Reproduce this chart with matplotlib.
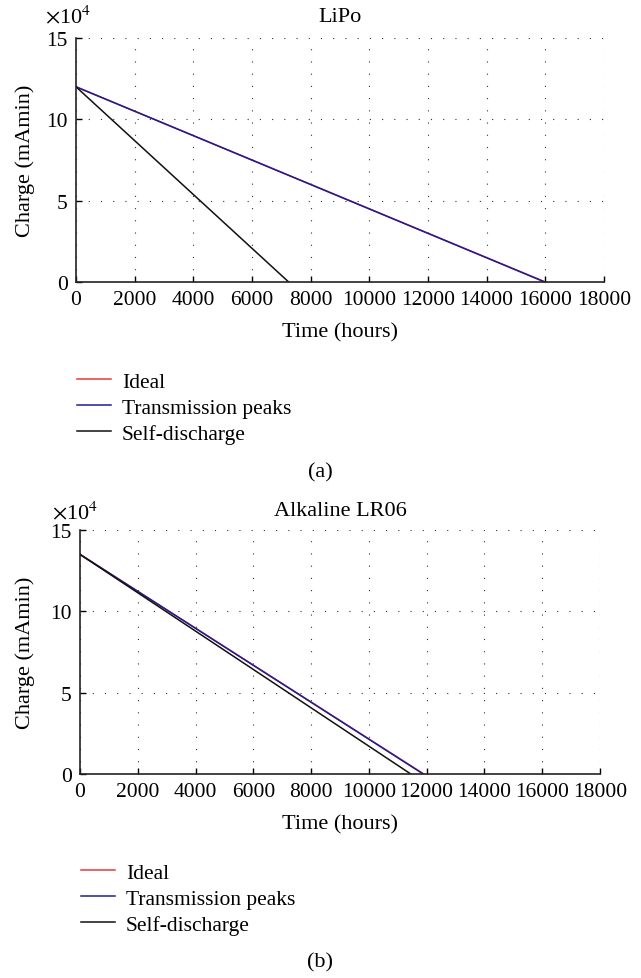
import matplotlib
matplotlib.use('Agg')
import matplotlib.pyplot as plt

plt.rcParams['font.family'] = ['Liberation Serif', 'DejaVu Serif']
plt.rcParams['mathtext.fontset'] = 'stix'

# Data (time in hours, charge in mAmin)
series_names = ['Ideal', 'Transmission peaks', 'Self-discharge']
series_colors = ['#e8383d', '#1c1c96', '#111111']

lipo_time = [[0, 16000], [0, 15980], [0, 7250]]
lipo_charge = [[120000, 0], [120000, 0], [120000, 0]]

alk_time = [[0, 11900], [0, 11880], [0, 11450]]
alk_charge = [[135000, 0], [135000, 0], [135000, 0]]

xticks = [0, 2000, 4000, 6000, 8000, 10000, 12000, 14000, 16000, 18000]
yticks = [0, 50000, 100000, 150000]
ytick_labels = ['0', '5', '10', '15']

W, H = 641, 979
fig = plt.figure(figsize=(W / 100, H / 100), dpi=100)


def px(x, y):
    return x / W, 1 - y / H


def panel(rect, times, charges, title, title_y, mult_xy, legend_y, tag, tag_y):
    left, top, right, bottom = rect
    ax = fig.add_axes([left / W, 1 - bottom / H, (right - left) / W, (bottom - top) / H])
    for t, c, name, col in zip(times, charges, series_names, series_colors):
        ax.plot(t, c, color=col, lw=1.1, label=name)
    ax.set_xlim(0, 18000)
    ax.set_ylim(0, 150000)
    ax.set_xticks(xticks)
    ax.set_xticklabels([str(v) for v in xticks])
    ax.set_yticks(yticks)
    ax.set_yticklabels(ytick_labels)
    ax.tick_params(direction='in', length=4, width=1, labelsize=15.5, pad=6)
    ax.grid(True, color='#333333', lw=0.8, linestyle=(0, (1, 10)))
    for s in ['top', 'right']:
        ax.spines[s].set_visible(False)
    for s in ['left', 'bottom']:
        ax.spines[s].set_linewidth(1.2)
        ax.spines[s].set_color('#222222')
    ax.set_xlabel('Time (hours)', fontsize=16, va='center')
    ax.xaxis.set_label_coords(0.5, -(bottom + 50 - bottom) / (bottom - top) + 0.0)
    ax.set_ylabel('Charge (mAmin)', fontsize=16, va='center')
    ax.yaxis.set_label_coords((25 - left) / (right - left), 0.5)
    fig.text(*px((left + right) / 2, title_y), title, fontsize=16, ha='center', va='center')
    fig.text(*px(*mult_xy), r'$\times$10$^4$', fontsize=16, ha='left', va='center')
    fig.legend(handles=ax.get_lines(), loc='upper left',
               bbox_to_anchor=px(left - 8, legend_y), frameon=False,
               fontsize=15.5, handlelength=1.6, handletextpad=0.5,
               labelspacing=0.28, borderaxespad=0)
    fig.text(*px(320, tag_y), tag, fontsize=16, ha='center', va='center')
    return ax


panel((76, 39, 604, 283), lipo_time, lipo_charge, 'LiPo', 18, (45, 17), 364, '(a)', 473)
panel((80, 531, 600, 775), alk_time, alk_charge, 'Alkaline LR06', 512, (52, 513), 855, '(b)', 963)

fig.savefig('out.png', dpi=100)
